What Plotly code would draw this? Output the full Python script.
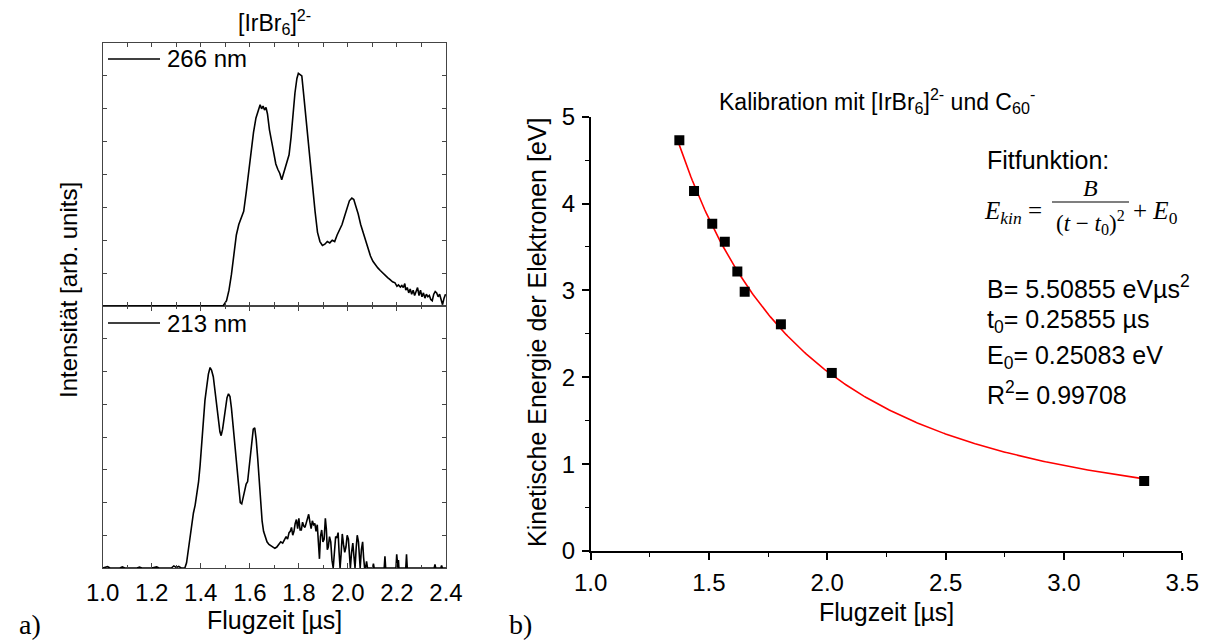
import numpy as np
import plotly.graph_objects as go

W, H = 1206, 640

# ---------------- data: left panel spectra (normalised intensity) ----------------
t266 = [1.00, 1.20, 1.40, 1.48, 1.492, 1.505, 1.515, 1.525, 1.535, 1.545, 1.555, 1.565, 1.575, 1.585,
        1.595, 1.605, 1.615, 1.625, 1.635, 1.642, 1.648, 1.654, 1.660, 1.666, 1.672, 1.680, 1.690,
        1.698, 1.706, 1.714, 1.722, 1.730, 1.737, 1.745, 1.752, 1.760, 1.768, 1.776, 1.784, 1.792,
        1.798, 1.805, 1.812, 1.820, 1.828, 1.836, 1.846, 1.856, 1.866, 1.876, 1.886, 1.896, 1.906,
        1.916, 1.926, 1.936, 1.946, 1.956, 1.966, 1.976, 1.986, 1.996, 2.006, 2.016, 2.024, 2.032,
        2.042, 2.052, 2.062, 2.072, 2.082, 2.092, 2.102, 2.112, 2.122, 2.132, 2.142, 2.152, 2.162,
        2.172, 2.182, 2.192, 2.200, 2.206, 2.214, 2.220, 2.226, 2.232, 2.236, 2.242, 2.248, 2.254,
        2.260, 2.266, 2.272, 2.278, 2.284, 2.290, 2.296, 2.302, 2.308, 2.314, 2.320, 2.326, 2.332,
        2.338, 2.344, 2.350, 2.356, 2.362, 2.368, 2.374, 2.380, 2.386, 2.392, 2.398]
i266 = [0.0, 0.0, 0.0, 0.0, 0.002, 0.02, 0.06, 0.12, 0.19, 0.27, 0.31, 0.335, 0.36, 0.43,
        0.51, 0.59, 0.66, 0.715, 0.75, 0.765, 0.75, 0.76, 0.745, 0.755, 0.73, 0.67, 0.62,
        0.575, 0.54, 0.52, 0.505, 0.48, 0.50, 0.53, 0.55, 0.575, 0.64, 0.73, 0.81, 0.865,
        0.885, 0.88, 0.875, 0.80, 0.72, 0.63, 0.54, 0.44, 0.36, 0.28, 0.245, 0.23, 0.235,
        0.245, 0.24, 0.25, 0.245, 0.27, 0.29, 0.31, 0.34, 0.375, 0.40, 0.41, 0.405, 0.38,
        0.35, 0.31, 0.28, 0.25, 0.22, 0.19, 0.17, 0.155, 0.145, 0.135, 0.125, 0.115, 0.108,
        0.10, 0.092, 0.088, 0.075, 0.08, 0.072, 0.078, 0.07, 0.085, 0.06, 0.07, 0.05, 0.065,
        0.045, 0.06, 0.04, 0.055, 0.07, 0.04, 0.06, 0.035, 0.05, 0.03, 0.045, 0.035, 0.04,
        0.025, 0.02, 0.045, 0.055, 0.05, 0.035, 0.045, 0.02, 0.005, 0.03, 0.045]

t213 = [1.00, 1.02, 1.03, 1.07, 1.08, 1.09, 1.14, 1.15, 1.16, 1.20, 1.22, 1.23, 1.28, 1.29, 1.30,
        1.31, 1.32, 1.335, 1.342, 1.349, 1.356, 1.363, 1.370, 1.377, 1.384, 1.391, 1.397, 1.404,
        1.410, 1.417, 1.424, 1.431, 1.438, 1.444, 1.451, 1.458, 1.465, 1.472, 1.478, 1.483, 1.489,
        1.495, 1.501, 1.507, 1.513, 1.519, 1.525, 1.531, 1.537, 1.543, 1.549, 1.555, 1.561, 1.567,
        1.573, 1.579, 1.585, 1.591, 1.597, 1.603, 1.609, 1.614, 1.620, 1.626, 1.632, 1.638, 1.644,
        1.650, 1.656, 1.663, 1.670, 1.678, 1.686, 1.694, 1.702, 1.710, 1.718, 1.726, 1.734, 1.742,
        1.748, 1.754, 1.760, 1.765, 1.770, 1.775, 1.780, 1.785, 1.790, 1.795, 1.800, 1.805, 1.810,
        1.815, 1.820, 1.825, 1.830, 1.835, 1.840, 1.845, 1.850, 1.855, 1.860, 1.865, 1.870, 1.875,
        1.880, 1.884, 1.888, 1.893, 1.898, 1.903, 1.908, 1.912, 1.916, 1.920, 1.925, 1.930, 1.935,
        1.940, 1.945, 1.950, 1.955, 1.960, 1.964, 1.968, 1.972, 1.977, 1.982, 1.987, 1.992, 1.997,
        2.002, 2.006, 2.010, 2.015, 2.020, 2.025, 2.029, 2.034, 2.038, 2.043, 2.047, 2.050, 2.055,
        2.060, 2.064, 2.068, 2.072, 2.076, 2.080, 2.101, 2.104, 2.107, 2.148, 2.151, 2.154, 2.196,
        2.199, 2.202, 2.204, 2.206, 2.208, 2.236, 2.239, 2.242, 2.352, 2.355, 2.358, 2.379, 2.382,
        2.385, 2.40]
i213 = [0.0, 0.005, 0.0, 0.0, 0.004, 0.0, 0.0, 0.003, 0.0, 0.0, 0.004, 0.0, 0.0, 0.008, 0.002,
        0.006, 0.0, 0.0, 0.02, 0.07, 0.13, 0.18, 0.21, 0.24, 0.28, 0.33, 0.39, 0.49,
        0.58, 0.64, 0.69, 0.74, 0.765, 0.755, 0.73, 0.68, 0.62, 0.56, 0.52, 0.505, 0.53,
        0.57, 0.62, 0.65, 0.665, 0.655, 0.61, 0.55, 0.47, 0.41, 0.34, 0.28, 0.25, 0.245,
        0.27, 0.30, 0.32, 0.33, 0.38, 0.45, 0.50, 0.53, 0.535, 0.49, 0.42, 0.33, 0.25,
        0.18, 0.14, 0.115, 0.10, 0.09, 0.085, 0.08, 0.075, 0.08, 0.09, 0.10, 0.095, 0.11,
        0.12, 0.11, 0.135, 0.14, 0.155, 0.125, 0.14, 0.17, 0.185, 0.15, 0.19, 0.145, 0.145,
        0.175, 0.16, 0.155, 0.17, 0.19, 0.205, 0.175, 0.15, 0.18, 0.165, 0.17, 0.14, 0.165,
        0.08, 0.035, 0.12, 0.145, 0.10, 0.11, 0.19, 0.15, 0.07, 0.08, 0.12, 0.10, 0.03,
        0.0, 0.06, 0.12, 0.115, 0.135, 0.06, 0.0, 0.05, 0.13, 0.09, 0.06, 0.08, 0.125,
        0.11, 0.03, 0.0, 0.06, 0.095, 0.04, 0.0, 0.08, 0.125, 0.10, 0.02, 0.0, 0.07,
        0.10, 0.04, 0.0, 0.0, 0.025, 0.0, 0.0, 0.017, 0.0, 0.0, 0.045, 0.0, 0.0,
        0.052, 0.0, 0.0, 0.03, 0.0, 0.0, 0.052, 0.0, 0.0, 0.014, 0.0, 0.0, 0.01,
        0.0, 0.0]

# ---------------- data: right panel calibration ----------------
flugzeit = [1.375, 1.437, 1.514, 1.567, 1.620, 1.651, 1.804, 2.019, 3.339]
energie = [4.73, 4.144, 3.768, 3.56, 3.218, 2.984, 2.61, 2.05, 0.807]
# fit parameters shown in the chart
B_FIT, T0_FIT, E0_FIT = 5.50855, 0.25855, 0.25083
t_fit = np.linspace(1.37, 3.345, 300)
e_fit = B_FIT / (t_fit - T0_FIT) ** 2 + E0_FIT

FONT = "Liberation Sans, Arial, sans-serif"
SERIF = "Liberation Serif, DejaVu Serif, serif"


def px(x):
    return x / W


def py(y):
    return 1 - y / H


fig = go.Figure()
fig.add_trace(go.Scatter(x=t213, y=i213, mode="lines", line=dict(color="black", width=1.6),
                         xaxis="x", yaxis="y", showlegend=False))
fig.add_trace(go.Scatter(x=t266, y=i266, mode="lines", line=dict(color="black", width=1.6),
                         xaxis="x2", yaxis="y2", showlegend=False))
fig.add_trace(go.Scatter(x=t_fit, y=e_fit, mode="lines", line=dict(color="#ff0000", width=1.6),
                         xaxis="x3", yaxis="y3", showlegend=False))
fig.add_trace(go.Scatter(x=flugzeit, y=energie, mode="markers",
                         marker=dict(symbol="square", size=10, color="black"),
                         xaxis="x3", yaxis="y3", showlegend=False))

LX0, LX1 = px(102.7), px(446)
frame = dict(showline=True, linecolor="#444", linewidth=1, mirror="ticks", ticks="inside",
             tickcolor="#444", showgrid=False, zeroline=False, automargin=False)

fig.update_layout(
    template="none",
    width=W, height=H, margin=dict(l=0, r=0, t=0, b=0, pad=0),
    paper_bgcolor="white", plot_bgcolor="white",
    font=dict(family=FONT, color="black", size=24),
    xaxis=dict(domain=[LX0, LX1], anchor="y", range=[1.0, 2.4], dtick=0.2, tick0=1.0,
               tickformat=".1f", ticklen=5, ticklabelstandoff=3,
               tickfont=dict(size=24),
               minor=dict(dtick=0.1, ticklen=3, ticks="inside", tickcolor="#444"), **frame),
    yaxis=dict(domain=[py(568), py(306)], anchor="x", range=[0, 1], dtick=0.125,
               showticklabels=False, ticklen=4, **frame),
    xaxis2=dict(domain=[LX0, LX1], anchor="y2", range=[1.0, 2.4], dtick=0.1, tick0=1.0,
                showticklabels=False, ticklen=4, matches="x", **frame),
    yaxis2=dict(domain=[py(306), py(43)], anchor="x2", range=[0, 1], dtick=0.125,
                showticklabels=False, ticklen=4, **frame),
    xaxis3=dict(domain=[px(590.6), px(1182.3)], anchor="y3", range=[1.0, 3.5], dtick=0.5,
                tick0=1.0, tickformat=".1f", showline=True, linecolor="black", linewidth=1.6,
                ticks="outside", ticklen=7, tickwidth=1.6, tickcolor="black", showgrid=False,
                zeroline=False, tickfont=dict(size=24), automargin=False, ticklabelstandoff=2,
                minor=dict(dtick=0.25, ticklen=4, ticks="outside", tickcolor="black", tickwidth=1.2)),
    yaxis3=dict(domain=[py(551), py(116.7)], anchor="x3", range=[0, 5], dtick=1,
                showline=True, linecolor="black", linewidth=1.6,
                ticks="outside", ticklen=7, tickwidth=1.6, tickcolor="black", showgrid=False,
                zeroline=False, tickfont=dict(size=24), automargin=False, ticklabelstandoff=2,
                minor=dict(dtick=0.5, ticklen=4, ticks="outside", tickcolor="black", tickwidth=1.2)),
)

ann = []


def add_text(x, y, text, size=24, family=FONT, xanchor="center", yanchor="middle", angle=0):
    ann.append(dict(x=px(x), y=py(y), xref="paper", yref="paper", text=text, showarrow=False,
                    font=dict(size=size, family=family, color="black"),
                    xanchor=xanchor, yanchor=yanchor, textangle=angle))


# left panel texts
add_text(274, 22, "[IrBr<sub>6</sub>]<sup>2-</sup>", size=23)
add_text(165, 59, "266 nm", size=24, xanchor="left")
add_text(165, 323, "213 nm", size=24, xanchor="left")
add_text(68, 290, "Intensität [arb. units]", size=24, angle=-90)
add_text(274, 620, "Flugzeit [µs]", size=25)
add_text(30, 624, "a)", size=28, family=SERIF)
add_text(520, 624, "b)", size=28, family=SERIF)

# right panel texts
add_text(877, 101, "Kalibration mit [IrBr<sub>6</sub>]<sup>2-</sup> und C<sub>60</sub><sup>-</sup>", size=23)
add_text(537, 333, "Kinetische Energie der Elektronen [eV]", size=25, angle=-90)
add_text(886, 612, "Flugzeit [µs]", size=25)
add_text(985, 160, "Fitfunktion:", size=25, xanchor="left")
add_text(982, 213, "<i>E<sub>kin</sub></i> =", size=25, family=SERIF, xanchor="left")
add_text(1090, 188, "<i>B</i>", size=24, family=SERIF)
add_text(1090, 222, "(<i>t</i> − <i>t</i><sub>0</sub>)<sup>2</sup>", size=23, family=SERIF)
add_text(1131, 213, "+ <i>E</i><sub>0</sub>", size=25, family=SERIF, xanchor="left")
add_text(985, 287, "B= 5.50855 eVµs<sup>2</sup>", size=25, xanchor="left")
add_text(985, 321, "t<sub>0</sub>= 0.25855 µs", size=25, xanchor="left")
add_text(985, 357, "E<sub>0</sub>= 0.25083 eV", size=25, xanchor="left")
add_text(985, 393, "R<sup>2</sup>= 0.99708", size=25, xanchor="left")

fig.update_layout(annotations=ann)

shapes = [
    dict(type="line", xref="paper", yref="paper", x0=px(108), x1=px(160), y0=py(59), y1=py(59),
         line=dict(color="black", width=1.6)),
    dict(type="line", xref="paper", yref="paper", x0=px(108), x1=px(160), y0=py(323), y1=py(323),
         line=dict(color="black", width=1.6)),
    dict(type="line", xref="paper", yref="paper", x0=px(1052), x1=px(1129), y0=py(202), y1=py(202),
         line=dict(color="black", width=1.2)),
]
fig.update_layout(shapes=shapes)

fig.write_html("out.html")
